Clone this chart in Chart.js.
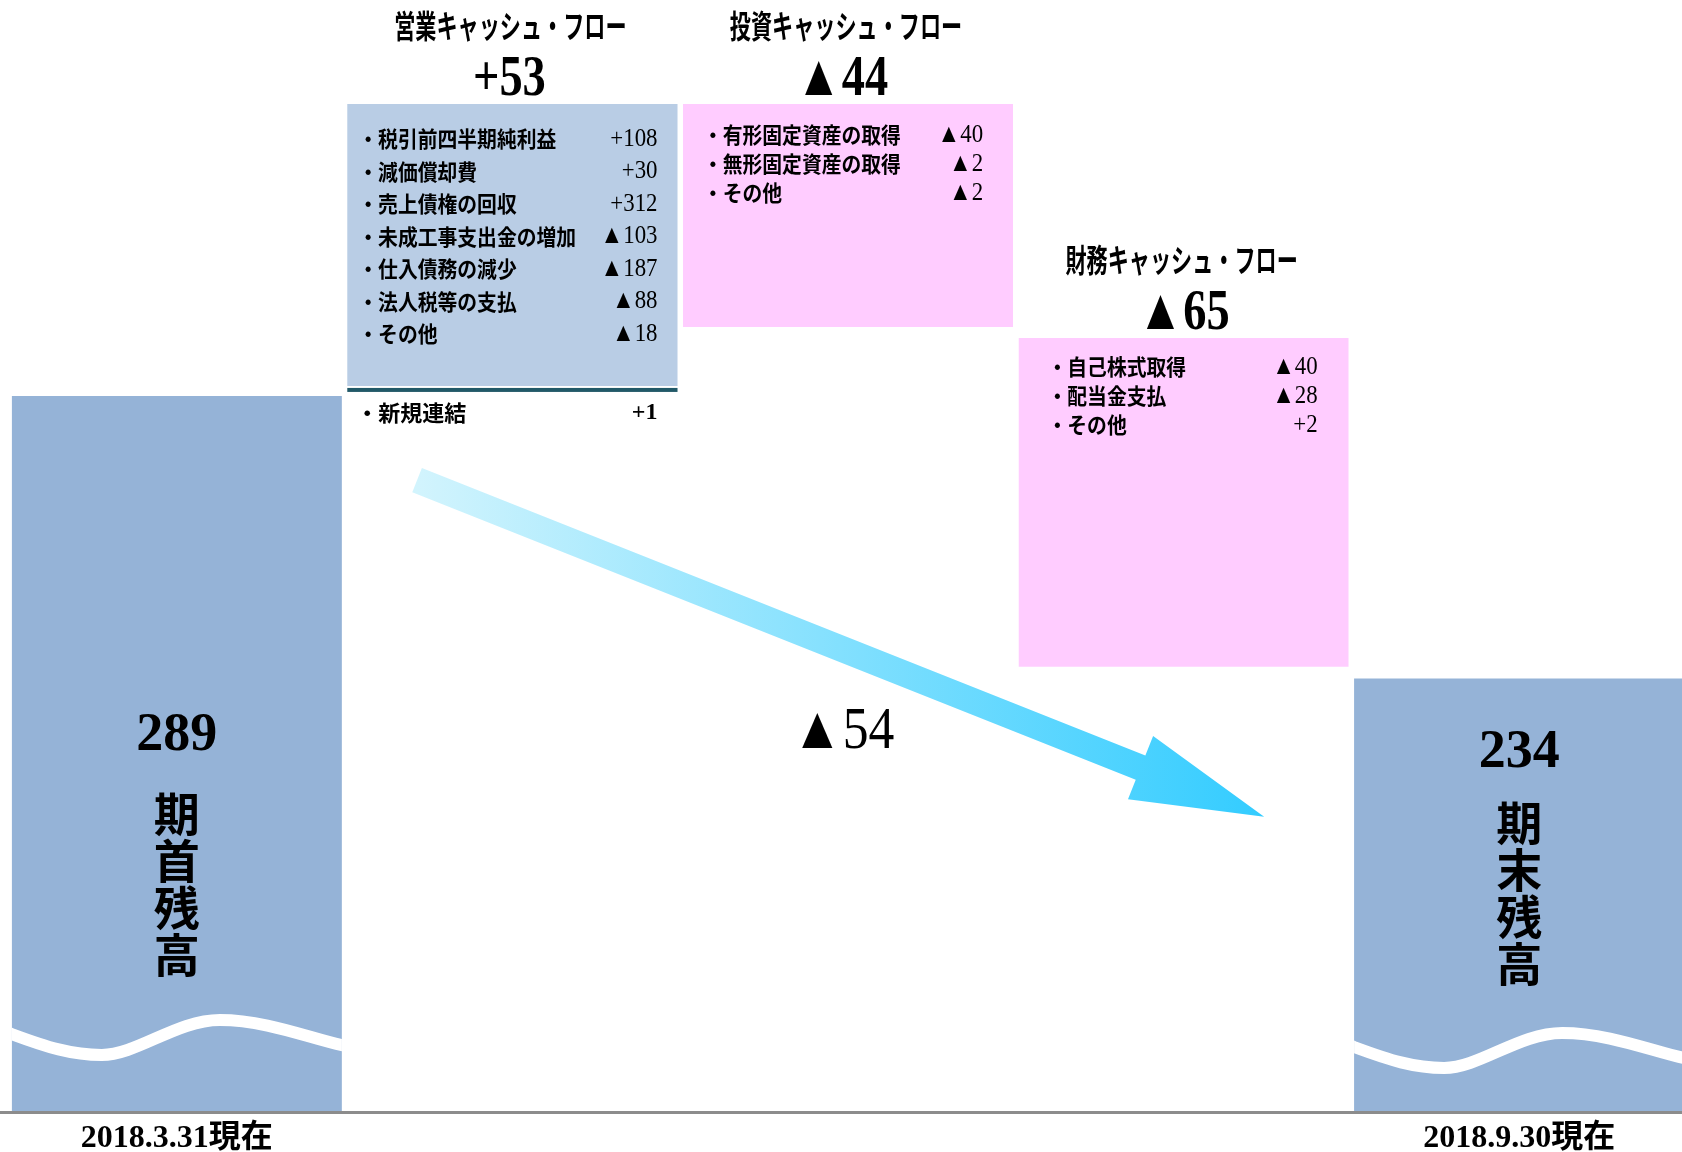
<!DOCTYPE html>
<html lang="ja">
<head>
<meta charset="utf-8">
<title>キャッシュ・フロー</title>
<script src="https://cdn.jsdelivr.net/npm/chart.js@4.4.1/dist/chart.umd.min.js"></script>
<style>
  html, body { margin: 0; padding: 0; background: #fff; overflow: hidden; }
  #wrap { width: 1687px; height: 1152px; position: relative; }
</style>
</head>
<body>
<div id="wrap"><canvas id="cf"></canvas></div>
<script>
const categories = ['期首残高', '営業キャッシュ・フロー', '投資キャッシュ・フロー', '財務キャッシュ・フロー', '期末残高'];
const dateLabels = ['2018.3.31現在', '', '', '', '2018.9.30現在'];
const startBalance = 289;
const endBalance = 234;
const flowValues = [53, -44, -65];
const newConsolidation = 1;
const netChange = -54;

const opItems = ['・税引前四半期純利益', '・減価償却費', '・売上債権の回収', '・未成工事支出金の増加', '・仕入債務の減少', '・法人税等の支払', '・その他'];
const opValues = [108, 30, 312, -103, -187, -88, -18];
const invItems = ['・有形固定資産の取得', '・無形固定資産の取得', '・その他'];
const invValues = [-40, -2, -2];
const finItems = ['・自己株式取得', '・配当金支払', '・その他'];
const finValues = [-40, -28, 2];

// truncated axis (the wave marks the cut)
const yMin = 152.7;
const yMax = 361.55;

const barColors = ['#95b3d7', '#b9cde5', '#ffccff', '#ffccff', '#95b3d7'];
// white gaps between the blocks (top, bottom) in px
const gapTop = [10, 0, 0, 0, 0];
const gapBottom = [0, 0, 11, 17, 0];

// floating bars for the waterfall
let running = startBalance;
const barData = [[yMin, startBalance]];
flowValues.forEach(v => {
  barData.push([running, running + v]);
  running += v;
});
barData.push([yMin, endBalance]);

const fmt = v => (v > 0 ? '+' + v : '▲' + Math.abs(v));

const SERIF = '"Liberation Serif", "Noto Sans CJK JP"';
const GOTHIC = '"Noto Sans CJK JP", sans-serif';

function txt(ctx, s, x, y, font, align, sx) {
  ctx.save();
  ctx.font = font;
  ctx.fillStyle = '#000';
  ctx.textBaseline = 'middle';
  ctx.textAlign = align;
  ctx.translate(x, y);
  ctx.scale(sx, 1);
  ctx.fillText(s, 0, 0);
  ctx.restore();
}

const decor = {
  id: 'decor',
  afterDatasetsDraw(chart) {
    const ctx = chart.ctx;
    const bars = chart.getDatasetMeta(0).data;
    const xs = chart.scales.x, ys = chart.scales.y;
    const base = chart.chartArea.bottom;
    const topOf = i => Math.min(bars[i].y, bars[i].base) + gapTop[i];

    // white wave across the balance bars
    [[0, 77], [4, 64]].forEach(([i, lift]) => {
      const b = bars[i];
      const left = b.x - b.width / 2, w = b.width;
      const k = w / 330;
      const P = (dx, dh) => [left + dx * k, base - lift + dh];
      ctx.save();
      ctx.beginPath();
      ctx.rect(left, topOf(i), w, base - topOf(i));
      ctx.clip();
      ctx.beginPath();
      ctx.moveTo(...P(-10, -4));
      ctx.lineTo(...P(0, 0));
      ctx.bezierCurveTo(...P(35, 13), ...P(60, 21), ...P(90, 21));
      ctx.bezierCurveTo(...P(125, 21), ...P(165, -14), ...P(208, -14));
      ctx.bezierCurveTo(...P(255, -14), ...P(300, 5), ...P(330, 11));
      ctx.lineTo(...P(345, 14));
      ctx.lineWidth = 12;
      ctx.strokeStyle = '#fff';
      ctx.stroke();
      ctx.restore();
    });

    // dark line under the operating box
    const op = bars[1];
    const opBottom = Math.max(op.y, op.base);
    ctx.fillStyle = '#215968';
    ctx.fillRect(op.x - op.width / 2, opBottom + 2, op.width, 4);

    // arrow showing the net change
    const step = xs.getPixelForValue(1) - xs.getPixelForValue(0);
    const x0 = xs.getPixelForValue(0);
    const sx0 = x0 + 0.716 * step, sy0 = ys.getPixelForValue(271.3);
    const tx = x0 + 3.24 * step, ty = ys.getPixelForValue(208);
    const dx = tx - sx0, dy = ty - sy0, L = Math.hypot(dx, dy);
    const ux = dx / L, uy = dy / L, nx = -uy, ny = ux;
    const hx = tx - ux * 133, hy = ty - uy * 133;
    const sw = 13, hw = 34;
    const grad = ctx.createLinearGradient(sx0, 0, tx, 0);
    grad.addColorStop(0, '#d2f4fd');
    grad.addColorStop(1, '#33ccff');
    ctx.beginPath();
    ctx.moveTo(sx0 + nx * sw, sy0 + ny * sw);
    ctx.lineTo(hx + nx * sw, hy + ny * sw);
    ctx.lineTo(hx + nx * hw, hy + ny * hw);
    ctx.lineTo(tx, ty);
    ctx.lineTo(hx - nx * hw, hy - ny * hw);
    ctx.lineTo(hx - nx * sw, hy - ny * sw);
    ctx.lineTo(sx0 - nx * sw, sy0 - ny * sw);
    ctx.closePath();
    ctx.fillStyle = grad;
    ctx.fill();
    txt(ctx, fmt(netChange), xs.getPixelForValue(2) - 5, base - 379, 'normal 60px ' + SERIF, 'center', 0.86);

    // headers and detail rows of the three flow boxes
    const boxes = [
      { i: 1, items: opItems, vals: opValues, lx: 11, rx: 20, y0: 35, dy: 32.5, hx: -3 },
      { i: 2, items: invItems, vals: invValues, lx: 20, rx: 30, y0: 31, dy: 29, hx: -6 },
      { i: 3, items: finItems, vals: finValues, lx: 29, rx: 31, y0: 29, dy: 29, hx: 0 }
    ];
    boxes.forEach(bx => {
      const b = bars[bx.i];
      const top = topOf(bx.i);
      const left = b.x - b.width / 2, right = b.x + b.width / 2;
      txt(ctx, categories[bx.i], b.x - 2, top - 78, 'bold 32px ' + GOTHIC, 'center', 0.66);
      txt(ctx, fmt(flowValues[bx.i - 1]), b.x + bx.hx, top - 24, 'bold 58px ' + SERIF, 'center', 0.8);
      bx.items.forEach((s, j) => {
        const y = top + bx.y0 + j * bx.dy;
        txt(ctx, s, left + bx.lx, y, 'bold 22px ' + GOTHIC, 'left', 0.9);
        txt(ctx, fmt(bx.vals[j]), right - bx.rx, y, 'normal 26px ' + SERIF, 'right', 0.88);
      });
    });
    txt(ctx, '・新規連結', op.x - op.width / 2 + 9, opBottom + 27, 'bold 22px ' + GOTHIC, 'left', 1);
    txt(ctx, fmt(newConsolidation), op.x + op.width / 2 - 20, opBottom + 27, 'bold 24px ' + SERIF, 'right', 1);

    // balance labels inside the end bars
    [[0, startBalance, 375, 297], [4, endBalance, 358, 288]].forEach(([i, v, ny0, cy0]) => {
      const b = bars[i];
      txt(ctx, String(v), b.x, base - ny0, 'bold 54px ' + SERIF, 'center', 1);
      categories[i].split('').forEach((c, j) => {
        txt(ctx, c, b.x, base - cy0 + j * 47, 'bold 46px ' + GOTHIC, 'center', 1);
      });
    });

    // base line
    ctx.fillStyle = '#8c8c8c';
    ctx.fillRect(0, base, chart.width, 3);
  }
};

new Chart(document.getElementById('cf'), {
  type: 'bar',
  data: {
    labels: categories,
    datasets: [{
      data: barData,
      backgroundColor: barColors,
      borderColor: '#ffffff',
      borderSkipped: false,
      borderWidth: c => ({ top: gapTop[c.dataIndex], bottom: gapBottom[c.dataIndex], left: 0, right: 0 }),
      categoryPercentage: 1,
      barPercentage: 0.984
    }]
  },
  options: {
    responsive: true,
    maintainAspectRatio: false,
    animation: false,
    layout: { padding: { left: 9, right: 0, top: 0, bottom: 0 } },
    plugins: { legend: { display: false }, tooltip: { enabled: false } },
    scales: {
      x: {
        grid: { display: false, drawTicks: false },
        border: { display: false },
        afterFit: s => { s.height = 41; },
        ticks: {
          padding: 9,
          color: '#000',
          font: { family: SERIF, size: 32, weight: 'bold' },
          callback: (v, i) => dateLabels[i]
        }
      },
      y: { display: false, min: yMin, max: yMax }
    }
  },
  plugins: [decor]
});
</script>
</body>
</html>
